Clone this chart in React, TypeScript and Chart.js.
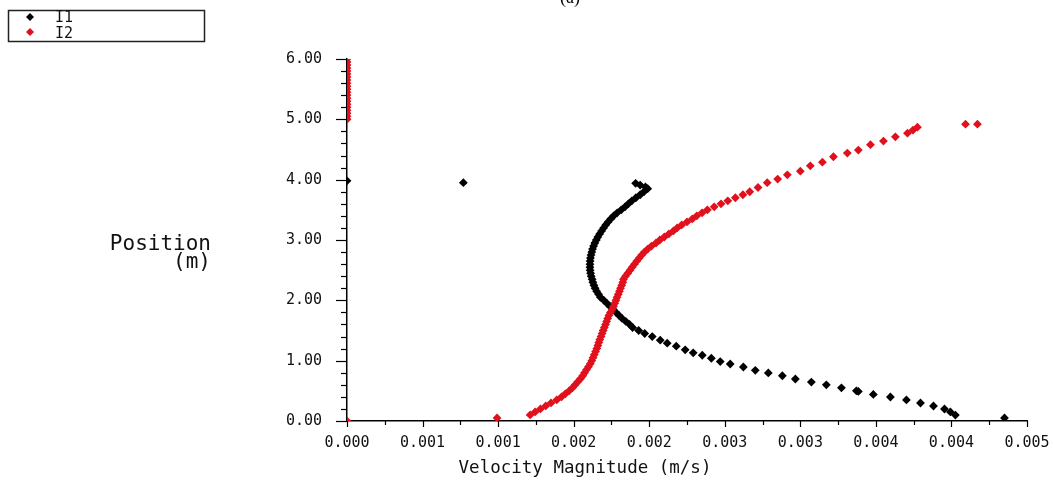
import React, { useEffect, useRef } from "react";
import { Chart, registerables } from "chart.js";

Chart.register(...registerables);

const seriesNames = ["I1", "I2"];
const seriesColors = ["#000000", "#e0101c"];

const xTickValues = [0, 0.0005, 0.001, 0.0015, 0.002, 0.0025, 0.003, 0.0035, 0.004, 0.0045];
const xTickLabels = ["0.000", "0.001", "0.001", "0.002", "0.002", "0.003", "0.003", "0.004", "0.004", "0.005"];
const yTickValues = [0, 1, 2, 3, 4, 5, 6];
const yTickLabels = ["0.00", "1.00", "2.00", "3.00", "4.00", "5.00", "6.00"];

const chartTitle = "(a)";
const xTitle = "Velocity Magnitude (m/s)";
const yTitleLines = ["Position", "(m)"];

// I1 (black) velocity magnitude (m/s) and position (m)
const i1Velocity = [
  0.004351, 0.004026, 0.003993, 0.003954, 0.003881, 0.003795, 0.003702, 0.003596, 0.003483, 0.003384,
  0.003371, 0.003272, 0.003172, 0.003073, 0.002967, 0.002881, 0.002788, 0.002702, 0.002623, 0.002536,
  0.00247, 0.002411, 0.002351, 0.002291, 0.002238, 0.002179, 0.002119, 0.002073,
  0.00202, 0.00197, 0.00193, 0.00189, 0.00187, 0.001845, 0.00182, 0.0018, 0.00178, 0.00176,
  0.00174, 0.00172, 0.0017, 0.001677, 0.001665, 0.001652, 0.001642, 0.001634, 0.001627, 0.001622,
  0.001616, 0.001612, 0.001609, 0.001608, 0.001608, 0.001609, 0.001611, 0.001615, 0.00162, 0.001625,
  0.001632, 0.00164, 0.00165, 0.00166, 0.001672, 0.001685, 0.001698, 0.001712, 0.001728, 0.001745,
  0.001765, 0.001788, 0.001815, 0.00184, 0.001862, 0.001885, 0.001912, 0.00194, 0.001965, 0.00199,
  0.001975, 0.00194, 0.00191,
  0.0, 0.00077,
];
const i1Position = [
  0.05, 0.099, 0.15, 0.199, 0.249, 0.298, 0.35, 0.398, 0.44, 0.49,
  0.5, 0.55, 0.6, 0.645, 0.696, 0.75, 0.796, 0.84, 0.895, 0.945,
  0.985, 1.04, 1.09, 1.13, 1.18, 1.24, 1.29, 1.34,
  1.4, 1.45, 1.5, 1.55, 1.6, 1.65, 1.7, 1.75, 1.8, 1.85,
  1.9, 1.95, 2.0, 2.05, 2.1, 2.15, 2.2, 2.25, 2.3, 2.35,
  2.4, 2.45, 2.5, 2.55, 2.6, 2.65, 2.7, 2.75, 2.8, 2.85,
  2.9, 2.95, 3.0, 3.05, 3.1, 3.15, 3.2, 3.25, 3.3, 3.35,
  3.4, 3.45, 3.5, 3.55, 3.6, 3.65, 3.7, 3.75, 3.8, 3.85,
  3.88, 3.91, 3.94,
  3.98, 3.95,
];

// I2 (red) velocity magnitude (m/s) and position (m)
const i2Velocity = [
  0.0, 0.000993,
  0.0, 0.0, 0.0, 0.0, 0.0, 0.0, 0.0, 0.0, 0.0, 0.0, 0.0,
  0.0, 0.0, 0.0, 0.0, 0.0, 0.0, 0.0, 0.0, 0.0, 0.0,
  0.001212, 0.001245, 0.00128, 0.001315, 0.00135, 0.001388, 0.00142, 0.001445, 0.00147, 0.001492,
  0.00151, 0.001527, 0.001545, 0.00156, 0.001572, 0.001585, 0.001598, 0.00161, 0.00162, 0.001628,
  0.001636, 0.001645, 0.001653, 0.00166, 0.001666, 0.001673, 0.001681, 0.001688, 0.001695, 0.001703,
  0.001711, 0.001718, 0.001725, 0.001733, 0.001743, 0.001754, 0.001764, 0.001772, 0.00178, 0.001787,
  0.001795, 0.001803, 0.00181, 0.001818, 0.001825, 0.00183, 0.001843, 0.001858, 0.001873, 0.001887,
  0.001902, 0.001918, 0.001934, 0.00195, 0.001968, 0.00199, 0.002015, 0.002045, 0.00207, 0.0021,
  0.00213, 0.00216, 0.002185, 0.002215, 0.00225, 0.002285, 0.002315, 0.00235, 0.002385, 0.00243,
  0.002475, 0.00252, 0.00257, 0.00262, 0.002665, 0.00272, 0.002781, 0.00285, 0.002914, 0.003,
  0.003066, 0.003146, 0.003219, 0.003311, 0.003384, 0.003464, 0.00355, 0.003629, 0.003709, 0.003745,
  0.003775,
  0.004093, 0.004172,
];
const i2Position = [
  0.0, 0.05,
  5.0, 5.05, 5.1, 5.15, 5.2, 5.25, 5.3, 5.35, 5.4, 5.45, 5.5,
  5.55, 5.6, 5.65, 5.7, 5.75, 5.8, 5.85, 5.9, 5.95, 6.0,
  0.1, 0.15, 0.2, 0.25, 0.3, 0.35, 0.4, 0.45, 0.5, 0.55,
  0.6, 0.65, 0.7, 0.75, 0.8, 0.85, 0.9, 0.95, 1.0, 1.05,
  1.1, 1.15, 1.2, 1.25, 1.3, 1.35, 1.4, 1.45, 1.5, 1.55,
  1.6, 1.65, 1.7, 1.75, 1.8, 1.85, 1.9, 1.95, 2.0, 2.05,
  2.1, 2.15, 2.2, 2.25, 2.3, 2.35, 2.4, 2.45, 2.5, 2.55,
  2.6, 2.65, 2.7, 2.75, 2.8, 2.85, 2.9, 2.95, 3.0, 3.05,
  3.1, 3.15, 3.2, 3.25, 3.3, 3.35, 3.4, 3.45, 3.5, 3.55,
  3.6, 3.65, 3.7, 3.75, 3.8, 3.87, 3.95, 4.01, 4.08, 4.14,
  4.23, 4.29, 4.38, 4.44, 4.49, 4.58, 4.64, 4.71, 4.77, 4.82,
  4.87,
  4.92, 4.92,
];

const MONO = "'DejaVu Sans Mono', monospace";

function zip(xs: number[], ys: number[]) {
  return xs.map((x, i) => ({ x, y: ys[i] }));
}

function diamond(ctx: CanvasRenderingContext2D, x: number, y: number, r: number, color: string) {
  ctx.save();
  ctx.fillStyle = color;
  ctx.beginPath();
  ctx.moveTo(x, y - r);
  ctx.lineTo(x + r, y);
  ctx.lineTo(x, y + r);
  ctx.lineTo(x - r, y);
  ctx.closePath();
  ctx.fill();
  ctx.restore();
}

const decorPlugin = {
  id: "decor",
  afterDraw(chart: any) {
    const ctx: CanvasRenderingContext2D = chart.ctx;
    const xs = chart.scales.x;
    const ys = chart.scales.y;
    const area = chart.chartArea;
    ctx.save();
    ctx.strokeStyle = "#000";
    ctx.lineWidth = 1.2;
    for (let i = 0; i < xTickValues.length; i++) {
      const px = Math.round(xs.getPixelForValue(xTickValues[i])) + 0.5;
      ctx.beginPath();
      ctx.moveTo(px, area.bottom);
      ctx.lineTo(px, area.bottom + 6);
      ctx.stroke();
      if (i > 0) {
        const mid = (xTickValues[i] + xTickValues[i - 1]) / 2;
        const pm = Math.round(xs.getPixelForValue(mid)) + 0.5;
        ctx.beginPath();
        ctx.moveTo(pm, area.bottom);
        ctx.lineTo(pm, area.bottom + 4);
        ctx.stroke();
      }
    }
    for (let i = 0; i < yTickValues.length; i++) {
      const py = Math.round(ys.getPixelForValue(yTickValues[i])) + 0.5;
      ctx.beginPath();
      ctx.moveTo(area.left - 11, py);
      ctx.lineTo(area.left, py);
      ctx.stroke();
      if (i > 0) {
        const lo = yTickValues[i - 1];
        const hi = yTickValues[i];
        for (let k = 1; k < 5; k++) {
          const v = lo + ((hi - lo) * k) / 5;
          const pm = Math.round(ys.getPixelForValue(v)) + 0.5;
          ctx.beginPath();
          ctx.moveTo(area.left - 6, pm);
          ctx.lineTo(area.left, pm);
          ctx.stroke();
        }
      }
    }
    ctx.fillStyle = "#000";
    ctx.font = "18px 'Liberation Serif', serif";
    ctx.textAlign = "center";
    ctx.textBaseline = "alphabetic";
    ctx.fillText(chartTitle, 570, 3);
    ctx.fillStyle = "#111";
    ctx.font = `21px ${MONO}`;
    ctx.textAlign = "right";
    ctx.fillText(yTitleLines[0], 211, 250);
    ctx.fillText(yTitleLines[1], 211, 268);
    ctx.font = `17.5px ${MONO}`;
    ctx.textAlign = "center";
    ctx.fillText(xTitle, 585, 473);
    ctx.strokeStyle = "#222";
    ctx.lineWidth = 1.5;
    ctx.strokeRect(8.5, 10.5, 196, 31);
    diamond(ctx, 30, 17, 4, seriesColors[0]);
    diamond(ctx, 30, 32, 4, seriesColors[1]);
    ctx.fillStyle = "#111";
    ctx.font = `15px ${MONO}`;
    ctx.textAlign = "left";
    ctx.fillText(seriesNames[0], 55, 22);
    ctx.fillText(seriesNames[1], 55, 38);
    ctx.restore();
  },
};

export default function App() {
  const ref = useRef<HTMLCanvasElement | null>(null);
  useEffect(() => {
    if (!ref.current) return;
    const chart = new Chart(ref.current, {
      type: "scatter",
      data: {
        datasets: [
          {
            label: seriesNames[0],
            data: zip(i1Velocity, i1Position),
            backgroundColor: seriesColors[0],
            borderColor: seriesColors[0],
            borderWidth: 0,
            pointStyle: "rectRot",
            pointRadius: 4.4,
            order: 1,
          },
          {
            label: seriesNames[1],
            data: zip(i2Velocity, i2Position),
            backgroundColor: seriesColors[1],
            borderColor: seriesColors[1],
            borderWidth: 0,
            pointStyle: "rectRot",
            pointRadius: 4.4,
            order: 0,
          },
        ],
      },
      options: {
        responsive: false,
        animation: false,
        layout: { padding: { left: 0, top: 59, right: 26, bottom: 0 } },
        plugins: { legend: { display: false }, tooltip: { enabled: false } },
        scales: {
          x: {
            type: "linear",
            min: 0,
            max: 0.0045,
            afterBuildTicks: (scale: any) => {
              scale.ticks = xTickValues.map((v) => ({ value: v }));
            },
            afterFit: (scale: any) => {
              scale.height = 67;
              scale.paddingLeft = 0;
              scale.paddingRight = 0;
            },
            grid: { display: false, drawTicks: false },
            border: { display: true, color: "#000", width: 1.5 },
            ticks: {
              autoSkip: false,
              maxRotation: 0,
              padding: 13,
              color: "#111",
              font: { family: MONO, size: 15 },
              callback: (_v: any, i: number) => xTickLabels[i],
            },
          },
          y: {
            type: "linear",
            min: 0,
            max: 6,
            afterBuildTicks: (scale: any) => {
              scale.ticks = yTickValues.map((v) => ({ value: v }));
            },
            afterFit: (scale: any) => {
              scale.width = 347;
            },
            grid: { display: false, drawTicks: false },
            border: { display: true, color: "#000", width: 1.5 },
            ticks: {
              autoSkip: false,
              padding: 25,
              color: "#111",
              font: { family: MONO, size: 15 },
              callback: (_v: any, i: number) => yTickLabels[i],
            },
          },
        },
      },
      plugins: [decorPlugin],
    } as any);
    return () => chart.destroy();
  }, []);
  return (
    <div style={{ position: "absolute", left: 0, top: 0, width: 1053, height: 488, background: "#fff" }}>
      <canvas ref={ref} width={1053} height={488} style={{ display: "block" }} />
    </div>
  );
}
